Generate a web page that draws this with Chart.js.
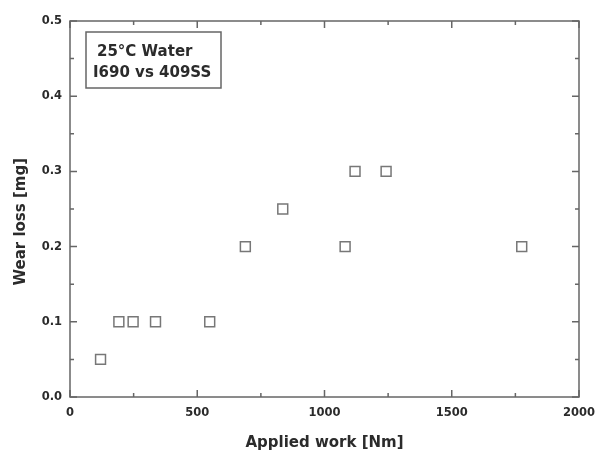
<!DOCTYPE html>
<html>
<head>
<meta charset="utf-8">
<script src="https://cdn.jsdelivr.net/npm/chart.js@4"></script>
<style>
  html, body { margin: 0; padding: 0; background: #fff; }
  #wrap { width: 604px; height: 459px; }
</style>
</head>
<body>
<div id="wrap"><canvas id="chart"></canvas></div>
<script>
// applied work [Nm] and wear loss [mg]
const appliedWork = [120, 192, 248, 336, 549, 689, 836, 1081, 1120, 1242, 1775];
const wearLoss = [0.05, 0.1, 0.1, 0.1, 0.1, 0.2, 0.25, 0.2, 0.3, 0.3, 0.2];

const xMajor = [0, 500, 1000, 1500, 2000];
const xMinor = [250, 750, 1250, 1750];
const yMajor = [0, 0.1, 0.2, 0.3, 0.4, 0.5];
const yMinor = [0.05, 0.15, 0.25, 0.35, 0.45];
const boxLines = ['25°C Water', 'I690 vs 409SS'];
const yTitle = 'Wear loss [mg]';

const FONT = '"DejaVu Sans", Verdana, sans-serif';
const INK = '#2b2b2b';
const AXIS = '#666';

// frame with inward ticks on all four sides, y title and the text box
const framePlugin = {
  id: 'frame',
  afterDatasetsDraw(chart) {
    const { ctx, chartArea: a, scales: { x, y } } = chart;
    ctx.save();
    ctx.strokeStyle = AXIS;
    ctx.lineWidth = 1.5;
    ctx.strokeRect(a.left, a.top, a.right - a.left, a.bottom - a.top);

    const tickX = (v, len) => {
      const px = x.getPixelForValue(v);
      ctx.beginPath();
      ctx.moveTo(px, a.bottom); ctx.lineTo(px, a.bottom - len);
      ctx.moveTo(px, a.top); ctx.lineTo(px, a.top + len);
      ctx.stroke();
    };
    const tickY = (v, len) => {
      const py = y.getPixelForValue(v);
      ctx.beginPath();
      ctx.moveTo(a.left, py); ctx.lineTo(a.left + len, py);
      ctx.moveTo(a.right, py); ctx.lineTo(a.right - len, py);
      ctx.stroke();
    };
    xMajor.forEach(v => tickX(v, 7));
    xMinor.forEach(v => tickX(v, 4));
    yMajor.forEach(v => tickY(v, 7));
    yMinor.forEach(v => tickY(v, 4));

    // y axis title, sits a bit below the plot centre in the original
    ctx.fillStyle = INK;
    ctx.font = 'bold 15px ' + FONT;
    ctx.textAlign = 'center';
    ctx.textBaseline = 'middle';
    ctx.translate(21, y.getPixelForValue(0.233));
    ctx.rotate(-Math.PI / 2);
    ctx.fillText(yTitle, 0, 0);
    ctx.setTransform(1, 0, 0, 1, 0, 0);

    // annotation box
    const bx = a.left + 16, by = a.top + 11, bw = 135, bh = 56;
    ctx.strokeRect(bx, by, bw, bh);
    ctx.textAlign = 'left';
    ctx.fillText(boxLines[0], bx + 11, by + 20);
    ctx.fillText(boxLines[1], bx + 7, by + 41);
    ctx.restore();
  }
};

new Chart(document.getElementById('chart'), {
  type: 'scatter',
  data: {
    datasets: [{
      data: appliedWork.map((w, i) => ({ x: w, y: wearLoss[i] })),
      pointStyle: 'rect',
      pointRadius: 7,
      pointHoverRadius: 7,
      borderColor: '#777',
      borderWidth: 1.5,
      backgroundColor: 'rgba(0,0,0,0)'
    }]
  },
  options: {
    responsive: true,
    maintainAspectRatio: false,
    animation: false,
    layout: { padding: { top: 21, right: 24, bottom: 0, left: 0 } },
    plugins: { legend: { display: false }, tooltip: { enabled: false } },
    scales: {
      x: {
        type: 'linear',
        min: 0,
        max: 2000,
        afterBuildTicks: s => { s.ticks = xMajor.map(v => ({ value: v })); },
        afterFit: s => { s.height = 62; },
        grid: { display: false, drawTicks: false },
        border: { display: false },
        ticks: {
          padding: 9,
          color: INK,
          font: { family: FONT, size: 11.5, weight: 'bold' },
          maxRotation: 0,
          callback: v => String(v)
        },
        title: {
          display: true,
          text: 'Applied work [Nm]',
          color: INK,
          font: { family: FONT, size: 15, weight: 'bold' },
          padding: { top: 0, bottom: 7 }
        }
      },
      y: {
        type: 'linear',
        min: 0,
        max: 0.5,
        afterBuildTicks: s => { s.ticks = yMajor.map(v => ({ value: v })); },
        afterFit: s => { s.width = 70; },
        grid: { display: false, drawTicks: false },
        border: { display: false },
        ticks: {
          padding: 8,
          color: INK,
          font: { family: FONT, size: 11.5, weight: 'bold' },
          callback: v => v.toFixed(1)
        }
      }
    }
  },
  plugins: [framePlugin]
});
</script>
</body>
</html>
